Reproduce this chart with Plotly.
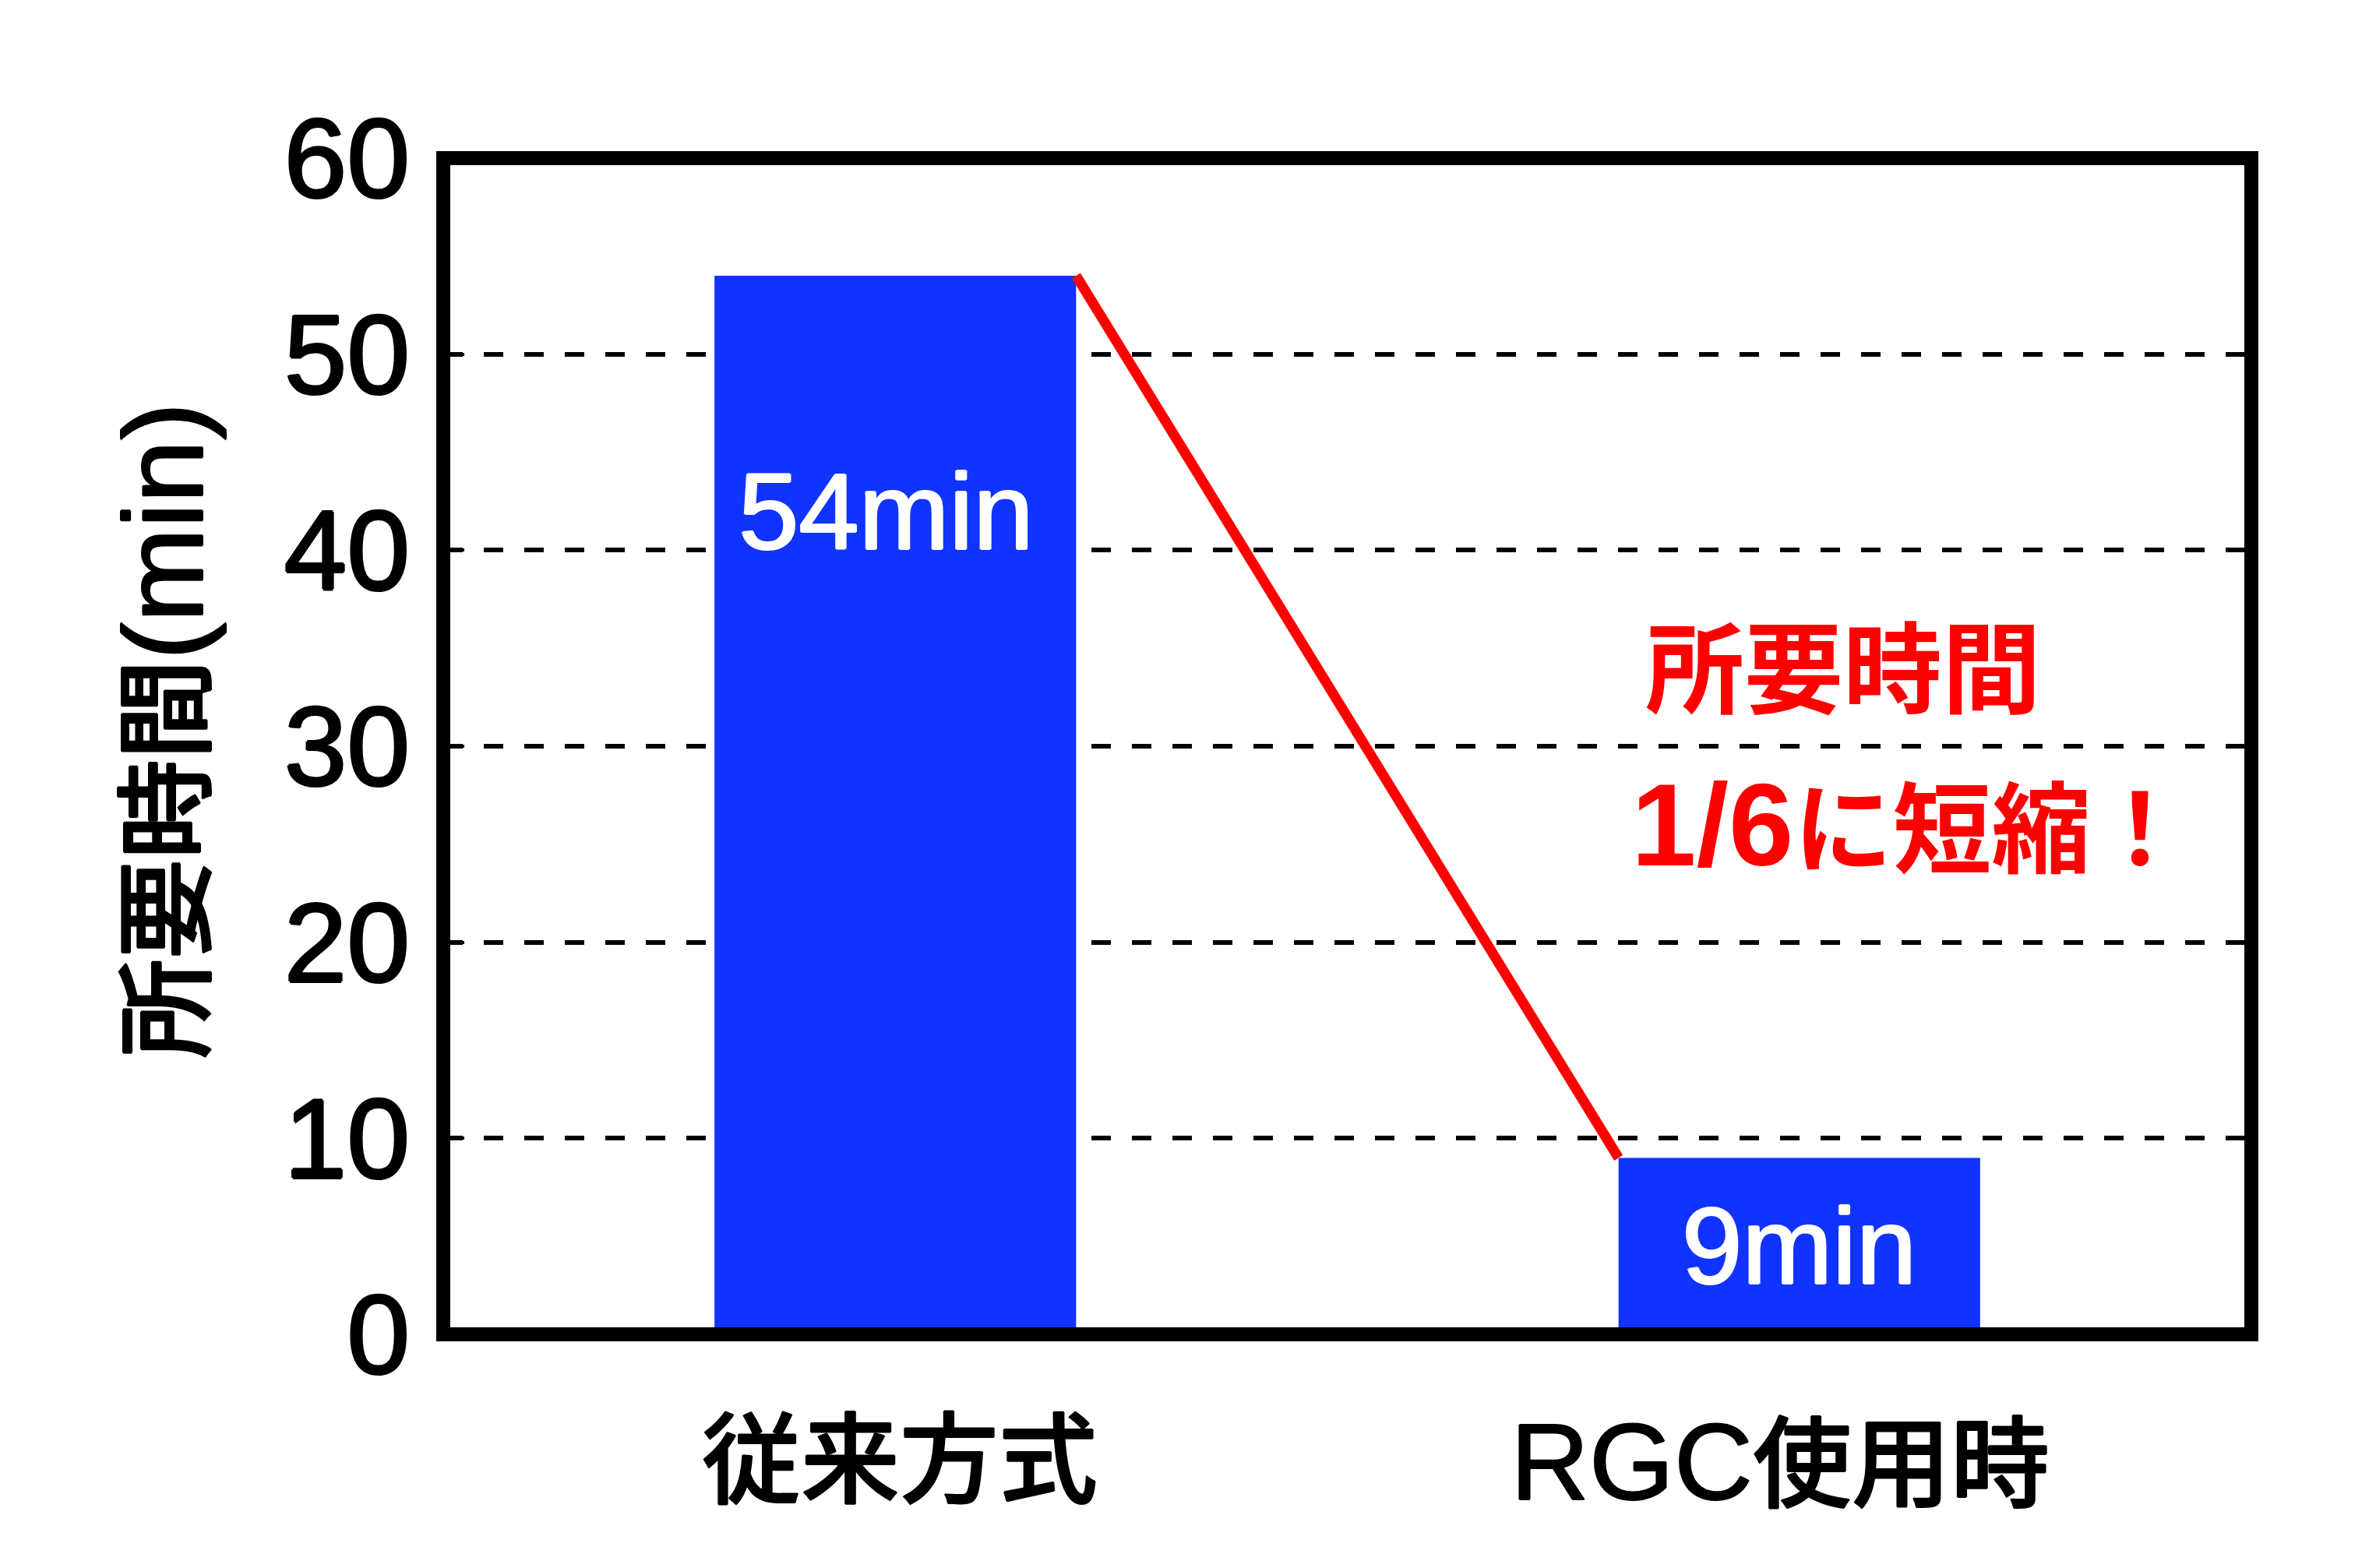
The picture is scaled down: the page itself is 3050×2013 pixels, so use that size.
import plotly.graph_objects as go

categories = ["従来方式", "RGC使用時"]
minutes = [54, 9]
bar_labels = ["54min", "9min"]
y_ticks = [0, 10, 20, 30, 40, 50, 60]
y_title = "所要時間(min)"
note_lines = ["所要時間", "1/6に短縮！"]

BLUE = "#1033FF"
RED = "#FF0000"
LATIN = "Liberation Sans, Arial, Helvetica, sans-serif"
MIXED = "Liberation Sans, Noto Sans CJK JP, sans-serif"

W, H = 3050, 2013
L, R, T, B = 561, 168, 195, 308
pw, ph = W - L - R, H - T - B


def thick(color, px=1.2):
    return ", ".join(f"{dx}px {dy}px 0 {color}" for dx, dy in
                     [(px, 0), (-px, 0), (0, px), (0, -px)])


def latin_span(s, size):
    """Give Latin runs a slightly larger size, as in the original artwork."""
    out, buf, is_lat = [], "", None
    for ch in s:
        lat = ord(ch) < 0x2E80
        if is_lat is None or lat == is_lat:
            buf += ch
        else:
            out.append((buf, is_lat))
            buf = ch
        is_lat = lat
    if buf:
        out.append((buf, is_lat))
    return "".join(f"<span style='font-size:{size}px'>{t}</span>" if lat else t
                   for t, lat in out)


fig = go.Figure()
fig.add_trace(go.Bar(
    x=[0, 1], y=minutes, width=0.4, marker=dict(color=BLUE, line=dict(width=0)),
    showlegend=False, hoverinfo="skip",
))
# red line from the top-right corner of the first bar to the top-left corner of the second
fig.add_trace(go.Scatter(
    x=[0 + 0.2, 1 - 0.2], y=minutes, mode="lines",
    line=dict(color=RED, width=13), showlegend=False, hoverinfo="skip",
))

fig.update_layout(
    width=W, height=H,
    margin=dict(l=L, r=R, t=T, b=B, pad=0),
    paper_bgcolor="white", plot_bgcolor="white",
    xaxis=dict(
        range=[-0.5, 1.5], tickmode="array", tickvals=[0, 1], ticktext=["", ""],
        showgrid=False, zeroline=False, showline=False, ticks="",
    ),
    yaxis=dict(
        range=[0, 60], tickmode="array", tickvals=y_ticks,
        ticktext=[str(v) for v in y_ticks],
        showgrid=True, gridcolor="black", gridwidth=6, griddash="25px,27px",
        zeroline=False, showline=False,
        ticks="inside", ticklen=27, tickwidth=4, tickcolor="black",
        tickfont=dict(family=LATIN, size=145, color="black", shadow=thick("black", 1.6)),
        ticklabelstandoff=42,
    ),
)

# frame
fig.add_shape(type="rect", xref="paper", yref="paper", x0=0, x1=1, y0=0, y1=1,
              line=dict(color="black", width=18), layer="above")

# category labels
cat_x = [0.005, 0.979]
for cx, cat in zip(cat_x, categories):
    fig.add_annotation(
        text=latin_span(cat, 140), x=cx, xref="x", y=-163 / ph, yref="paper",
        xanchor="center", yanchor="middle", showarrow=False,
        font=dict(family=MIXED, size=127, color="black", weight=500,
                  shadow=thick("black", 1.0)),
    )

# y axis title
fig.add_annotation(
    text=latin_span(y_title, 145), textangle=-90, xref="paper", yref="paper",
    x=(202 - L) / pw, y=(H - B - 930) / ph, xanchor="center", yanchor="middle",
    showarrow=False, font=dict(family=MIXED, size=128, color="black", weight=500,
                               shadow=thick("black", 1.2)),
)

# bar value labels
label_x = [-0.01, 0.0]
label_y = [42.0, 4.5]
for i, (txt, yy) in enumerate(zip(bar_labels, label_y)):
    fig.add_annotation(
        text=txt, x=i + label_x[i], y=yy, xref="x", yref="y",
        xanchor="center", yanchor="middle", showarrow=False,
        font=dict(family=LATIN, size=139, color="white", shadow=thick("white", 1.4)),
    )

# red note
note_y = [33.8, 26.0]
note_x = [0.828, 0.812]
for txt, xx, yy in zip(note_lines, note_x, note_y):
    fig.add_annotation(
        text=latin_span(txt, 150), x=xx, y=yy, xref="x", yref="y",
        xanchor="left", yanchor="middle", showarrow=False,
        font=dict(family=MIXED, size=127, color=RED, weight="bold"),
    )

fig.write_html("out.html")
